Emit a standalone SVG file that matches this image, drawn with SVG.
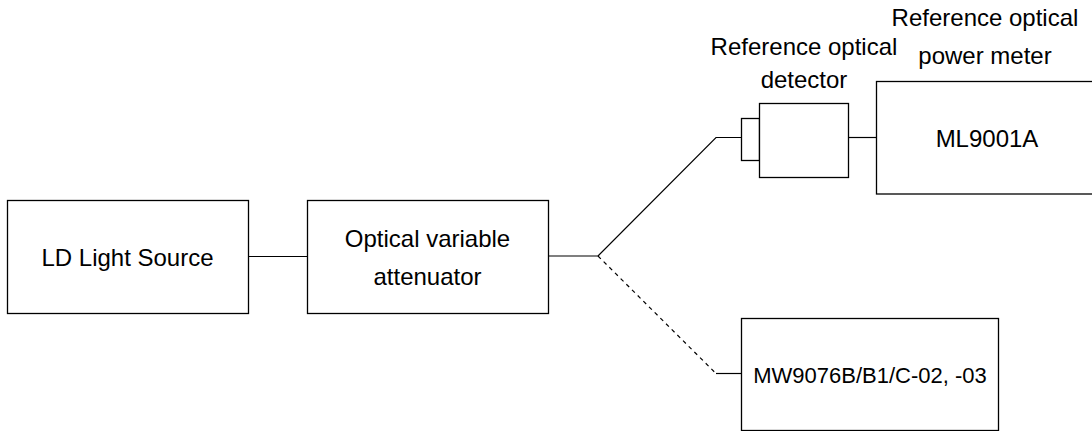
<svg xmlns="http://www.w3.org/2000/svg" width="1092" height="431" viewBox="0 0 1092 431">
<style>
.box{fill:#fff;stroke:#000;stroke-width:1.3}
.ln{fill:none;stroke:#000;stroke-width:1.2}
.dash{fill:none;stroke:#000;stroke-width:1.2;stroke-dasharray:4 4}
text{font-family:"Liberation Sans",Arial,sans-serif;font-size:24px;fill:#000;text-anchor:middle}
</style>
<rect width="1092" height="431" fill="#fff"/>
<g id="connectors">
<line class="ln" x1="248.5" y1="256.5" x2="307.5" y2="256.5"/>
<line class="ln" x1="548.5" y1="256" x2="598" y2="256"/>
<polyline class="ln" points="598,256 716,137.5 742,137.5"/>
<line class="ln" x1="848.5" y1="137.5" x2="877" y2="137.5"/>
<line class="dash" x1="598" y1="256" x2="716" y2="373.5"/>
<line class="ln" x1="716" y1="373.5" x2="742" y2="373.5"/>
</g>
<g id="ld">
<rect class="box" x="7.5" y="200.5" width="241" height="113"/>
<text x="127.5" y="266">LD Light Source</text>
</g>
<g id="attenuator">
<rect class="box" x="307.5" y="200.5" width="241" height="113"/>
<text x="427.5" y="247">Optical variable</text>
<text x="427.5" y="285">attenuator</text>
</g>
<g id="detector">
<rect class="box" x="741.5" y="118.5" width="18" height="42"/>
<rect class="box" x="759.5" y="103.5" width="89" height="74"/>
<text x="804" y="55">Reference optical</text>
<text x="804" y="88">detector</text>
</g>
<g id="powermeter">
<rect class="box" x="876.5" y="81.5" width="230" height="112.5"/>
<text x="985" y="26">Reference optical</text>
<text x="985" y="64">power meter</text>
<text x="987" y="147">ML9001A</text>
</g>
<g id="mw">
<rect class="box" x="741.5" y="318.5" width="257" height="112"/>
<text x="870" y="383" style="font-size:22px">MW9076B/B1/C-02, -03</text>
</g>
</svg>
